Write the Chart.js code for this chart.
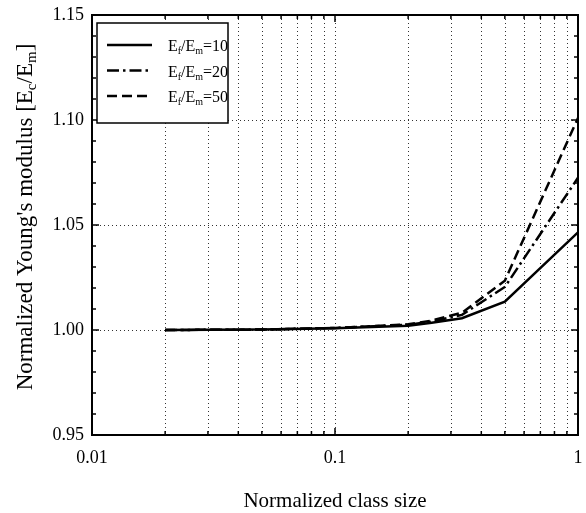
<!DOCTYPE html>
<html><head><meta charset="utf-8">
<script src="https://cdn.jsdelivr.net/npm/chart.js@4.4.0/dist/chart.umd.min.js"></script>
<style>html,body{margin:0;padding:0;background:#fff}</style>
</head><body>
<canvas id="c" width="586" height="513"></canvas>
<script>
// ---- data ----
const classSize = [0.02, 0.05, 0.1, 0.2, 0.25, 0.333, 0.5, 1];
const ratio10 = [1.0000, 1.0002, 1.0008, 1.0020, 1.0035, 1.0056, 1.0135, 1.0465];
const ratio20 = [1.0000, 1.0002, 1.0010, 1.0025, 1.0040, 1.0072, 1.0205, 1.0725];
const ratio50 = [1.0000, 1.0002, 1.0010, 1.0027, 1.0045, 1.0082, 1.0235, 1.1010];
const seriesRatios = ['10', '20', '50'];
const xTickLabels = [0.01, 0.1, 1];
const xMinorTicks = [0.02,0.03,0.04,0.05,0.06,0.07,0.08,0.09,0.2,0.3,0.4,0.5,0.6,0.7,0.8,0.9];
const yTickLabels = [0.95, 1.00, 1.05, 1.10, 1.15];
const yGridLines = [1.00, 1.05, 1.10];
const yMinorTicks = [0.96,0.97,0.98,0.99,1.01,1.02,1.03,1.04,1.06,1.07,1.08,1.09,1.11,1.12,1.13,1.14];
const xTitle = 'Normalized class size';
const yTitleParts = [["Normalized Young's modulus [E",0],["c",1],["/E",0],["m",1],["]",0]];

const FONT = '"Liberation Serif", "Times New Roman", serif';
const dashes = [[], [12,4,2.5,4], [10,5]];

function toPts(arr){ return classSize.map((x,i)=>({x:x, y:arr[i]})); }

function drawParts(ctx, parts, x, y, size, subSize, subShift){
  let cx = x;
  for (const [t, sub] of parts){
    ctx.font = (sub ? subSize : size) + 'px ' + FONT;
    ctx.fillText(t, cx, y + (sub ? subShift : 0));
    cx += ctx.measureText(t).width;
  }
  return cx - x;
}
function measureParts(ctx, parts, size, subSize){
  let w = 0;
  for (const [t, sub] of parts){
    ctx.font = (sub ? subSize : size) + 'px ' + FONT;
    w += ctx.measureText(t).width;
  }
  return w;
}

const decor = {
  id: 'decor',
  beforeDatasetsDraw(chart){
    const {ctx, chartArea:a, scales:{x, y}} = chart;
    ctx.save();
    ctx.strokeStyle = '#333';
    ctx.lineWidth = 1;
    ctx.setLineDash([1, 3]);
    for (const v of xMinorTicks.concat([0.1])){
      const px = Math.round(x.getPixelForValue(v)) + 0.5;
      ctx.beginPath(); ctx.moveTo(px, a.top); ctx.lineTo(px, a.bottom); ctx.stroke();
    }
    for (const v of yGridLines){
      const py = Math.round(y.getPixelForValue(v)) + 0.5;
      ctx.beginPath(); ctx.moveTo(a.left, py); ctx.lineTo(a.right, py); ctx.stroke();
    }
    ctx.restore();
  },
  afterDatasetsDraw(chart){
    const {ctx, chartArea:a, scales:{x, y}} = chart;
    ctx.save();
    ctx.setLineDash([]);
    ctx.strokeStyle = '#000';
    // ticks
    ctx.lineWidth = 1.5;
    const tick = (x1,y1,x2,y2)=>{ctx.beginPath();ctx.moveTo(x1,y1);ctx.lineTo(x2,y2);ctx.stroke();};
    for (const v of yTickLabels.concat(yMinorTicks)){
      const major = yTickLabels.includes(v);
      const L = major ? 7 : 4;
      const py = y.getPixelForValue(v);
      tick(a.left, py, a.left + L, py);
      tick(a.right, py, a.right - L, py);
    }
    for (const v of xTickLabels.concat(xMinorTicks)){
      const major = xTickLabels.includes(v);
      const L = major ? 7 : 4;
      const px = x.getPixelForValue(v);
      tick(px, a.bottom, px, a.bottom - L);
      tick(px, a.top, px, a.top + L);
    }
    // frame
    ctx.lineWidth = 2;
    ctx.strokeRect(a.left, a.top, a.right - a.left, a.bottom - a.top);
    // legend
    const lx = a.left + 5, ly = a.top + 8, lw = 131, lh = 100;
    ctx.fillStyle = '#fff';
    ctx.fillRect(lx, ly, lw, lh);
    ctx.lineWidth = 1.5;
    ctx.strokeRect(lx, ly, lw, lh);
    ctx.fillStyle = '#000';
    ctx.textBaseline = 'alphabetic';
    ctx.textAlign = 'left';
    chart.data.datasets.forEach((ds, i)=>{
      const yy = ly + 22 + i * 25.5;
      ctx.lineWidth = 2.5;
      ctx.setLineDash(ds.borderDash || []);
      ctx.beginPath(); ctx.moveTo(lx + 10, yy); ctx.lineTo(lx + 55, yy); ctx.stroke();
      ctx.setLineDash([]);
      drawParts(ctx, [['E',0],['f',1],['/E',0],['m',1],['='+seriesRatios[i],0]], lx + 71, yy + 6, 16, 10, 3);
    });
    // x title
    ctx.font = '21px ' + FONT;
    ctx.textAlign = 'center';
    ctx.fillText(xTitle, (a.left + a.right) / 2, 507);
    // y title
    ctx.textAlign = 'left';
    ctx.translate(32, (a.top + a.bottom) / 2 - 8);
    ctx.rotate(-Math.PI / 2);
    const w = measureParts(ctx, yTitleParts, 23, 15);
    drawParts(ctx, yTitleParts, -w / 2, 0, 23, 15, 4);
    ctx.restore();
  }
};

new Chart(document.getElementById('c'), {
  type: 'line',
  data: {
    datasets: [
      {label: 'Ef/Em=10', data: toPts(ratio10), borderColor: '#000', borderWidth: 2.5, borderDash: dashes[0], pointRadius: 0, fill: false, tension: 0},
      {label: 'Ef/Em=20', data: toPts(ratio20), borderColor: '#000', borderWidth: 2.5, borderDash: dashes[1], pointRadius: 0, fill: false, tension: 0},
      {label: 'Ef/Em=50', data: toPts(ratio50), borderColor: '#000', borderWidth: 2.5, borderDash: dashes[2], pointRadius: 0, fill: false, tension: 0}
    ]
  },
  options: {
    responsive: false,
    devicePixelRatio: 1,
    animation: false,
    layout: {padding: {left: 0, right: 8, top: 15, bottom: 0}},
    plugins: {legend: {display: false}, tooltip: {enabled: false}},
    scales: {
      x: {
        type: 'logarithmic', min: 0.01, max: 1,
        afterBuildTicks(s){ s.ticks = xTickLabels.map(v=>({value:v})); },
        afterFit(s){ s.height = 78; s.paddingLeft = 0; s.paddingRight = 0; },
        grid: {display: false, drawTicks: false},
        border: {display: false},
        ticks: {color: '#000', padding: 12, maxRotation: 0, autoSkip: false,
          font: {family: FONT, size: 18},
          callback: (v)=> String(v)}
      },
      y: {
        type: 'linear', min: 0.95, max: 1.15,
        afterBuildTicks(s){ s.ticks = yTickLabels.map(v=>({value:v})); },
        afterFit(s){ s.width = 92; s.paddingTop = 0; s.paddingBottom = 0; },
        grid: {display: false, drawTicks: false},
        border: {display: false},
        ticks: {color: '#000', padding: 8, font: {family: FONT, size: 18},
          callback: (v)=> Number(v).toFixed(2)}
      }
    }
  },
  plugins: [decor]
});
</script>
</body></html>
